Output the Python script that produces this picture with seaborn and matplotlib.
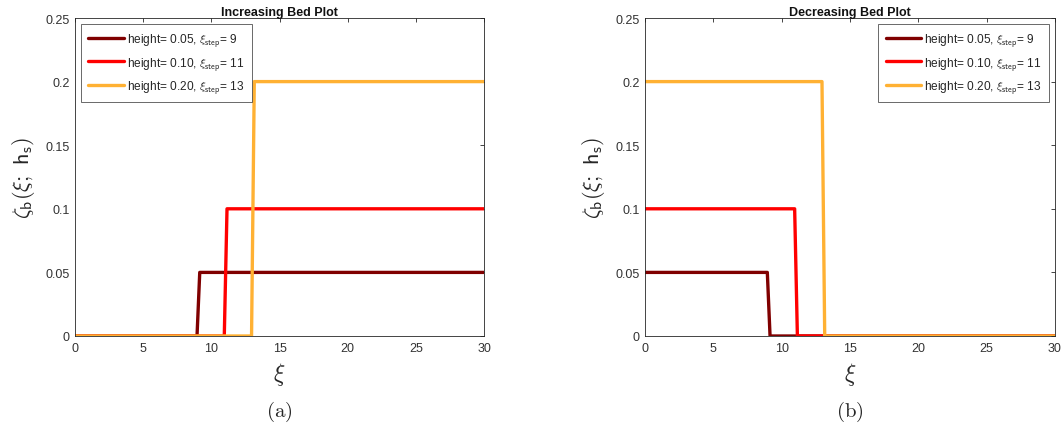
import numpy as np
import pandas as pd
import matplotlib
matplotlib.use("Agg")
import matplotlib.pyplot as plt
import seaborn as sns

# ---- data ----
heights = [0.05, 0.10, 0.20]
xi_steps = [9, 11, 13]
series_names = ["h005", "h010", "h020"]
colors = ["#800000", "#FF0000", "#FFB133"]
legend_labels = [r"height= 0.05, $\xi_{\mathsf{step}}$= 9",
                 r"height= 0.10, $\xi_{\mathsf{step}}$= 11",
                 r"height= 0.20, $\xi_{\mathsf{step}}$= 13"]
# breakpoints of each step curve (xi)
xi_inc = {"h005": [0, 8.95, 9.15, 30],
          "h010": [0, 10.95, 11.15, 30],
          "h020": [0, 12.95, 13.15, 30]}
zeta_inc = {"h005": [0, 0, 0.05, 0.05],
            "h010": [0, 0, 0.10, 0.10],
            "h020": [0, 0, 0.20, 0.20]}
xi_dec = {"h005": [0, 8.95, 9.15, 30],
          "h010": [0, 10.95, 11.15, 30],
          "h020": [0, 12.95, 13.15, 30]}
zeta_dec = {"h005": [0.05, 0.05, 0, 0],
            "h010": [0.10, 0.10, 0, 0],
            "h020": [0.20, 0.20, 0, 0]}
xticks = [0, 5, 10, 15, 20, 25, 30]
yticks = [0, 0.05, 0.1, 0.15, 0.2, 0.25]
ytick_labels = ["0", "0.05", "0.1", "0.15", "0.2", "0.25"]

sns.set_style("white")
plt.rcParams["font.family"] = ["Liberation Sans", "DejaVu Sans"]
plt.rcParams["mathtext.fontset"] = "cm"


def build_df(xs, zs):
    rows = []
    for name in series_names:
        for x, z in zip(xs[name], zs[name]):
            rows.append({"xi": x, "zeta": z, "series": name})
    return pd.DataFrame(rows)


fig = plt.figure(figsize=(10.62, 4.39), dpi=100)
ax1 = fig.add_axes([75 / 1062, 102 / 439, 409 / 1062, 318 / 439])
ax2 = fig.add_axes([645 / 1062, 102 / 439, 410 / 1062, 318 / 439])

panels = [(ax1, build_df(xi_inc, zeta_inc), "Increasing Bed Plot", "upper left", "(a)"),
          (ax2, build_df(xi_dec, zeta_dec), "Decreasing Bed Plot", "upper right", "(b)")]

axc = "#262626"
for ax, df, title, loc, cap in panels:
    sns.lineplot(data=df, x="xi", y="zeta", hue="series", hue_order=series_names,
                 palette=colors, linewidth=2.4, ax=ax, legend=False, sort=False,
                 estimator=None)
    ax.set_xlim(0, 30)
    ax.set_ylim(0, 0.25)
    ax.set_xticks(xticks)
    ax.set_yticks(yticks)
    ax.set_yticklabels(ytick_labels)
    ax.tick_params(direction="in", top=True, right=True, length=3, width=0.6,
                   labelsize=9, colors=axc, labelcolor="#333333", pad=4)
    for sp in ax.spines.values():
        sp.set_color(axc)
        sp.set_linewidth(0.6)
    ax.set_title(title, fontsize=9, fontweight="bold", pad=2, color="#111111")
    ax.set_xlabel(r"$\xi$", fontsize=17, labelpad=5)
    ax.set_ylabel(r"$\zeta_\mathsf{b}(\xi;\ \mathsf{h}_\mathsf{s})$", fontsize=16, labelpad=6)
    handles = [plt.Line2D([], [], color=c, linewidth=2.4) for c in colors]
    leg = ax.legend(handles, legend_labels, loc=loc, fontsize=8.6, frameon=True,
                    fancybox=False, edgecolor=axc, handlelength=3.0,
                    handletextpad=0.25, labelspacing=0.55, borderaxespad=0.5,
                    borderpad=0.6)
    leg.get_frame().set_linewidth(0.6)
    ax.text(0.5, -0.235, r"$\mathrm{" + cap + "}$", transform=ax.transAxes,
            ha="center", va="center", fontsize=15)

fig.savefig("out.png", dpi=100)
